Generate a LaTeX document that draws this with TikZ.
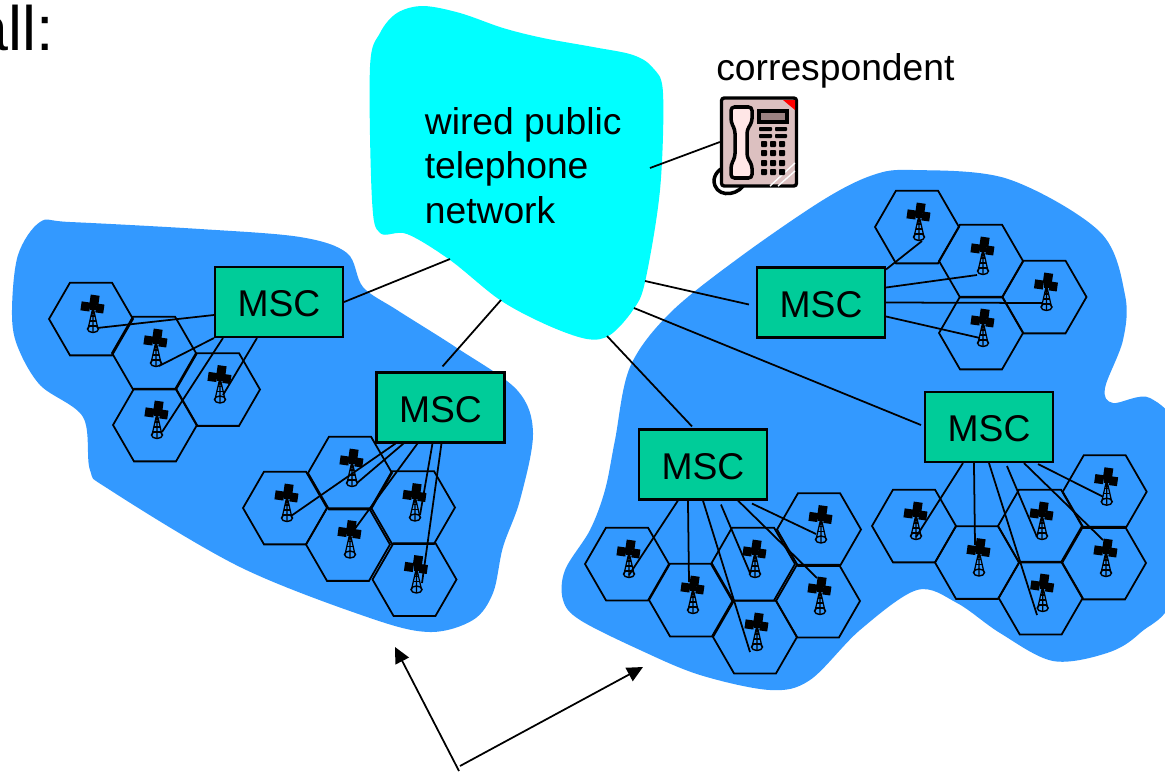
\documentclass[tikz,border=0pt]{standalone}
\usepackage{fontspec}
\setmainfont{Liberation Sans}
\usetikzlibrary{calc}
\usetikzlibrary{arrows.meta}
\usetikzlibrary{shapes.geometric}
\definecolor{cellblue}{HTML}{3399FF}
\definecolor{netcyan}{HTML}{00FFFF}
\definecolor{mscgreen}{HTML}{00CC99}
\definecolor{phonebody}{HTML}{DCC0C0}
\definecolor{phonelight}{HTML}{FFE6E6}
\definecolor{phonescreen}{HTML}{9C8282}
\tikzset{
  wire/.style={line width=1pt},
  blob/.style={smooth cycle,tension=0.55},
  msc/.style={draw,line width=1.2pt,fill=mscgreen,minimum width=2.56cm,minimum height=1.4cm,
    text height=17pt,text depth=0pt,font=\fontsize{21.2}{25}\selectfont},
  cell/.style={regular polygon,regular polygon sides=6,draw,line width=1pt,minimum size=1.68cm,inner sep=0pt},
  pointer/.style={line width=1pt,-{Triangle[length=9pt,width=8.5pt]}},
  key/.style={fill=black,rounded corners=0.5pt},
  tower/.pic={
    \fill[rotate=-8] (-4,-12) rectangle (5,-2);
    \fill[rotate=-8] (-12,-4) rectangle (-3,5);
    \fill[rotate=-8] (3,-4) rectangle (11,5);
    \fill (-3,-3) rectangle (3,3);
    \draw[line width=0.7pt] (0,0) -- (-5,22) (0,0) -- (5,22) (0,4) -- (0,25);
    \draw[line width=0.6pt] (-2,9) -- (2,9) (-3,14) -- (3,14) (-4,19) -- (4,19);
    \draw[line width=0.8pt] (0,22) ellipse (5.5 and 3.5);
  }
}
\newcommand{\cellat}[3]{\node[cell] (#1) at (#2,#3) {}; \pic at ($(#1)+(2,-12)$) {tower};}
\begin{document}
\begin{tikzpicture}[x=0.02cm,y=-0.02cm]
    \useasboundingbox (0,0) rectangle (1165,771);

    % Heading, cut by the page
    \node[anchor=base east,inner sep=0pt,font=\fontsize{35.7}{40}\selectfont] (recall) at (54.5,50) {all:};

    % Blue regions
    \fill[cellblue] plot[blob] coordinates {(40,222) (70,222) (200,229) (300,237) (347,253) (363,287) (397,310) (457,348) (517,390) (533,433) (520,500) (503,547) (493,593) (473,620) (430,632) (370,618) (240,567) (110,490) (90,470) (83,417) (40,385) (17,345) (12,310) (18,255)};
    \fill[cellblue] plot[blob] coordinates {(670,313) (630,367) (615,440) (605,490) (590,530) (565,570) (563,600) (580,620) (640,650) (700,675) (770,690) (810,680) (860,630) (917,590) (957,603) (1000,633) (1053,661) (1107,653) (1140,633) (1175,590) (1178,440) (1150,398) (1113,403) (1105,388) (1123,340) (1125,295) (1100,232) (1008,179) (913,170) (873,175) (823,200) (740,257)};

    % Telephone network
    \fill[netcyan] plot[blob] coordinates {(380,33) (397,13) (423,6) (460,13) (503,28) (543,38) (593,47) (633,55) (653,68) (663,93) (660,190) (645,282) (633,310) (610,335) (587,339) (547,325) (500,300) (450,260) (407,234) (380,233) (372,200) (370,67)};
    \node[anchor=west,inner sep=0pt,align=left,font=\fontsize{21.2}{25.5}\selectfont] (netlabel) at (424.5,165.5) {wired public\\telephone\\network};
    \coordinate (netA) at (450,259);
    \coordinate (netB) at (501,300);
    \coordinate (netC) at (607,336);
    \coordinate (netD) at (645,281);
    \coordinate (netE) at (634,308);
    \coordinate (netF) at (650,168);

    % Correspondent
    \node[anchor=base west,inner sep=0pt,font=\fontsize{21.2}{25}\selectfont] (corrlabel) at (716,80) {correspondent};
    \draw[line width=2pt] (743,186) .. controls (735,197) and (714,197) .. (714,180) .. controls (715,172) and (722,166) .. (732,166);
    \node[draw,line width=1.9pt,fill=phonebody,rounded corners=1.5pt,minimum width=1.5cm,minimum height=1.76cm] (phone) at (759,142) {};
    \fill[red] (783,100) -- (795,100) -- (795,110) -- cycle;
    \draw[white,line width=0.8pt] (770,186) -- (795,163) (778,186) -- (795,171);
    \draw[line width=2pt,fill=phonelight,rounded corners=2pt] (731,107) -- (752,107) -- (752,122) -- (747,130) -- (747,157) -- (752,165) -- (752,178) -- (731,178) -- (731,165) -- (735,157) -- (735,130) -- (731,122) -- cycle;
    \draw[line width=1.8pt,fill=phonescreen] (759,111) rectangle (787,122);
    \fill[key] (759,127) rectangle (772,131);
    \fill[key] (775,127) rectangle (787,131);
    \fill[key] (759,134) rectangle (772,138);
    \fill[key] (775,134) rectangle (787,138);
    \fill[key] (761,141) rectangle (767,147);
    \fill[key] (770,141) rectangle (776,147);
    \fill[key] (779,141) rectangle (785,147);
    \fill[key] (761,150) rectangle (767,156);
    \fill[key] (770,150) rectangle (776,156);
    \fill[key] (779,150) rectangle (785,156);
    \fill[key] (761,160) rectangle (767,166);
    \fill[key] (770,160) rectangle (776,166);
    \fill[key] (779,160) rectangle (785,166);
    \fill[key] (761,169) rectangle (767,175);
    \fill[key] (770,169) rectangle (776,175);
    \fill[key] (779,169) rectangle (785,175);
    \draw[wire] (netF) -- (phone.west);

    % Cells, left region
    \cellat{aA}{91}{319}
    \cellat{aB}{154}{353}
    \cellat{aC}{218}{389.5}
    \cellat{aD}{155}{425}
    \cellat{bA}{285}{508}
    \cellat{bB}{350}{473}
    \cellat{bC}{413}{507.5}
    \cellat{bD}{348}{544.5}
    \cellat{bE}{414.5}{579.5}

    % Cells, right region
    \cellat{rA}{917}{227}
    \cellat{rB}{981}{261}
    \cellat{rC}{1044.5}{297}
    \cellat{rD}{981}{333}
    \cellat{cA}{627}{564}
    \cellat{cB}{691}{600}
    \cellat{cC}{753}{564}
    \cellat{cD}{819}{529.5}
    \cellat{cE}{818}{601}
    \cellat{cF}{755}{637}
    \cellat{dA}{914}{526}
    \cellat{dB}{977}{562.5}
    \cellat{dC}{1040}{526}
    \cellat{dD}{1104.7}{491.7}
    \cellat{dE}{1104}{563}
    \cellat{dF}{1040.7}{598}

    % Switching centres
    \node[msc] (mscL) at (279,302) {MSC};
    \node[msc] (mscM) at (440.5,407.5) {MSC};
    \node[msc] (mscT) at (821,302.5) {MSC};
    \node[msc] (mscC) at (703,464.5) {MSC};
    \node[msc] (mscR) at (989,427) {MSC};

    % Links to the network
    \draw[wire] (netA) -- (mscL.east);
    \draw[wire] (netB) -- ($(mscM.north)+(2,-5)$);
    \draw[wire] (netC) -- ($(mscC.north)+(-11,-2)$);
    \draw[wire] (netD) -- ($(mscT.west)+(-7,2)$);
    \draw[wire] (netE) -- ($(mscR.west)+(-3,-2)$);

    % Links to the towers
    \draw[wire] ($(mscL.west)+(0,13)$) -- ($(aA)+(6,9)$);
    \draw[wire] (mscL.south west) -- ($(aB)+(5,13)$);
    \draw[wire] ($(mscL.south west)+(43,0)$) -- ($(aC)+(5,5.5)$);
    \draw[wire] ($(mscL.south west)+(9,0)$) -- ($(aD)+(7,7)$);

    \draw[wire] ($(mscM.south west)+(20,0)$) -- ($(bA)+(6,8)$);
    \draw[wire] ($(mscM.south west)+(28,0)$) -- ($(bB)+(7,10)$);
    \draw[wire] ($(mscM.south west)+(42,0)$) -- ($(bD)+(6,-14.5)$);
    \draw[wire] ($(mscM.south west)+(57,0)$) -- ($(bC)+(7,7.5)$);
    \draw[wire] ($(mscM.south west)+(66,0)$) -- ($(bE)+(7.5,3.5)$);

    \draw[wire] ($(mscT.north east)+(0,3)$) -- ($(rA)+(5,14)$);
    \draw[wire] ($(mscT.east)+(0,-15)$) -- ($(rB)+(-4,14)$);
    \draw[wire] (mscT.east) -- ($(rC)+(-2.5,6)$);
    \draw[wire] ($(mscT.east)+(0,14)$) -- ($(rD)+(-1,5)$);

    \draw[wire] ($(mscC.south west)+(40,0)$) -- ($(cA)+(2,11)$);
    \draw[wire] ($(mscC.south west)+(50,0)$) -- ($(cB)+(-2,-18)$);
    \draw[wire] ($(mscC.south west)+(65,0)$) -- ($(cF)+(-5,15)$);
    \draw[wire] ($(mscC.south west)+(83,4)$) -- ($(cC)+(-3,9)$);
    \draw[wire] ($(mscC.south west)+(100,0)$) -- ($(cE)+(-1,-23)$);
    \draw[wire] ($(mscC.south west)+(114,3)$) -- ($(cD)+(-3,4.5)$);

    \draw[wire] ($(mscR.south west)+(39,0)$) -- ($(dA)+(2,11)$);
    \draw[wire] ($(mscR.south west)+(50,0)$) -- ($(dB)+(-2,-17.5)$);
    \draw[wire] ($(mscR.south west)+(65,0)$) -- ($(dF)+(-3.7,17)$);
    \draw[wire] ($(mscR.south west)+(83,3)$) -- ($(dC)+(-3,11)$);
    \draw[wire] ($(mscR.south west)+(100,0)$) -- ($(dE)+(-1,-23)$);
    \draw[wire] ($(mscR.south west)+(114,1)$) -- ($(dD)+(-1.7,5)$);

    % Pointers to the regions
    \coordinate (ptrL) at (459,771);
    \coordinate (ptrR) at (460,766);
    \coordinate (regionL) at (395,647);
    \coordinate (regionR) at (643,667);
    \draw[pointer] (ptrL) -- (regionL);
    \draw[pointer] (ptrR) -- (regionR);
\end{tikzpicture}
\end{document}
